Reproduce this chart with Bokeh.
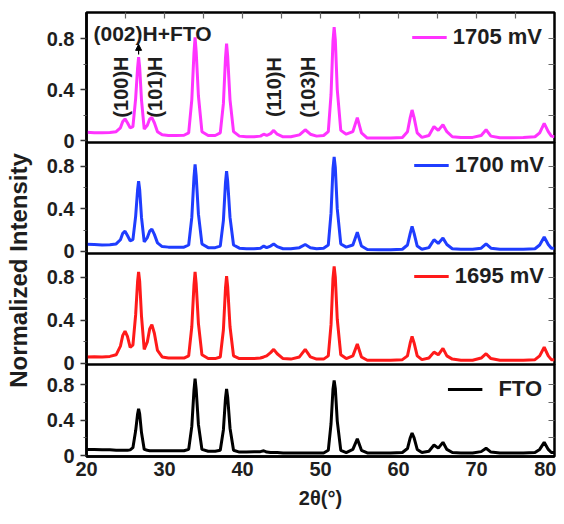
from math import pi
from bokeh.plotting import figure
from bokeh.layouts import column, row
from bokeh.models import (LinearAxis, FixedTicker, CustomJSTickFormatter, Arrow,
                          NormalHead, Range1d)
from bokeh.core.properties import value
from bokeh.embed import file_html
from bokeh.resources import INLINE

FONT = "Liberation Sans"
TXT = "#1e1e1e"

# ---------------- data ----------------
two_theta = [
    20.0, 21.0, 22.0, 23.0, 23.8, 24.35, 24.65, 24.94, 25.25, 25.6,
    25.95, 26.3, 26.55, 26.68, 26.82, 27.05, 27.4, 27.8, 28.1, 28.38,
    28.7, 29.1, 29.7, 30.5, 31.5, 32.5, 33.1, 33.5, 33.78, 33.92,
    34.06, 34.35, 34.8, 35.6, 36.5, 37.15, 37.55, 37.82, 37.96, 38.1,
    38.4, 38.85, 39.6, 40.5, 41.5, 42.3, 42.72, 43.1, 43.6, 44.0,
    44.45, 45.2, 46.2, 47.3, 48.04, 48.7, 49.5, 50.4, 51.0, 51.35,
    51.6, 51.75, 51.9, 52.15, 52.6, 53.3, 54.15, 54.72, 55.25, 56.0,
    57.5, 59.0, 60.5, 61.15, 61.5, 61.74, 62.0, 62.4, 63.0, 63.9,
    64.55, 65.1, 65.7, 66.2, 66.9, 68.0, 69.5, 70.6, 71.23, 71.85,
    73.0, 74.5, 76.0, 77.5, 78.1, 78.68, 79.2, 79.6, 80.0,
]

i_1705 = [
    0.065, 0.062, 0.062, 0.064, 0.07, 0.10, 0.15, 0.17, 0.14, 0.10,
    0.11, 0.33, 0.57, 0.655, 0.57, 0.32, 0.09, 0.12, 0.17, 0.18,
    0.14, 0.07, 0.045, 0.04, 0.04, 0.042, 0.06, 0.32, 0.69, 0.81,
    0.70, 0.35, 0.07, 0.04, 0.04, 0.06, 0.29, 0.65, 0.76, 0.66,
    0.32, 0.07, 0.035, 0.03, 0.03, 0.035, 0.05, 0.04, 0.055, 0.08,
    0.05, 0.03, 0.03, 0.045, 0.085, 0.05, 0.035, 0.04, 0.07, 0.36,
    0.78, 0.89, 0.79, 0.40, 0.08, 0.05, 0.07, 0.18, 0.06, 0.02,
    0.02, 0.02, 0.025, 0.07, 0.18, 0.24, 0.18, 0.06, 0.025, 0.04,
    0.11, 0.08, 0.125, 0.07, 0.03, 0.025, 0.025, 0.04, 0.085, 0.035,
    0.022, 0.022, 0.025, 0.03, 0.06, 0.135, 0.07, 0.035, 0.03,
]

i_1700 = [
    0.066, 0.064, 0.06, 0.062, 0.07, 0.11, 0.17, 0.19, 0.15, 0.10,
    0.11, 0.33, 0.58, 0.66, 0.58, 0.32, 0.09, 0.13, 0.19, 0.21,
    0.16, 0.08, 0.045, 0.04, 0.04, 0.04, 0.06, 0.32, 0.70, 0.82,
    0.71, 0.35, 0.07, 0.035, 0.035, 0.05, 0.29, 0.65, 0.755, 0.66,
    0.32, 0.06, 0.03, 0.025, 0.025, 0.03, 0.05, 0.035, 0.05, 0.07,
    0.045, 0.025, 0.025, 0.035, 0.065, 0.035, 0.025, 0.03, 0.06, 0.36,
    0.78, 0.89, 0.79, 0.40, 0.07, 0.04, 0.06, 0.18, 0.05, 0.018,
    0.015, 0.015, 0.02, 0.06, 0.17, 0.235, 0.17, 0.05, 0.02, 0.035,
    0.11, 0.075, 0.125, 0.065, 0.025, 0.02, 0.02, 0.03, 0.07, 0.03,
    0.02, 0.02, 0.02, 0.025, 0.06, 0.135, 0.065, 0.03, 0.03,
]

i_1695 = [
    0.06, 0.062, 0.06, 0.065, 0.08, 0.16, 0.26, 0.30, 0.25, 0.15,
    0.17, 0.45, 0.76, 0.85, 0.76, 0.44, 0.13, 0.20, 0.32, 0.36,
    0.28, 0.12, 0.06, 0.05, 0.05, 0.05, 0.07, 0.34, 0.73, 0.85,
    0.74, 0.37, 0.08, 0.045, 0.045, 0.06, 0.31, 0.70, 0.81, 0.71,
    0.34, 0.07, 0.045, 0.045, 0.045, 0.05, 0.06, 0.07, 0.10, 0.13,
    0.09, 0.045, 0.04, 0.06, 0.13, 0.06, 0.04, 0.04, 0.07, 0.36,
    0.79, 0.90, 0.80, 0.41, 0.08, 0.045, 0.07, 0.18, 0.06, 0.03,
    0.03, 0.03, 0.035, 0.07, 0.19, 0.25, 0.19, 0.07, 0.035, 0.05,
    0.105, 0.08, 0.14, 0.07, 0.04, 0.03, 0.03, 0.05, 0.09, 0.045,
    0.03, 0.03, 0.03, 0.035, 0.07, 0.15, 0.07, 0.035, 0.035,
]

i_fto = [
    0.07, 0.068, 0.066, 0.066, 0.062, 0.06, 0.06, 0.06, 0.06, 0.065,
    0.09, 0.28, 0.47, 0.53, 0.47, 0.26, 0.07, 0.06, 0.055, 0.055,
    0.055, 0.055, 0.055, 0.055, 0.055, 0.055, 0.07, 0.33, 0.74, 0.87,
    0.75, 0.35, 0.07, 0.05, 0.05, 0.06, 0.29, 0.65, 0.755, 0.66,
    0.31, 0.06, 0.04, 0.04, 0.045, 0.045, 0.055, 0.04, 0.035, 0.035,
    0.035, 0.03, 0.03, 0.03, 0.03, 0.03, 0.03, 0.03, 0.06, 0.36,
    0.75, 0.85, 0.76, 0.39, 0.06, 0.035, 0.07, 0.19, 0.06, 0.03,
    0.03, 0.03, 0.035, 0.08, 0.20, 0.255, 0.20, 0.07, 0.035, 0.05,
    0.12, 0.085, 0.15, 0.07, 0.035, 0.03, 0.03, 0.045, 0.083, 0.04,
    0.03, 0.03, 0.03, 0.035, 0.07, 0.15, 0.07, 0.035, 0.035,
]

series_labels = ["1705 mV", "1700 mV", "1695 mV", "FTO"]
series_colors = ["#ff33ff", "#1f3dff", "#ff1a1a", "#000000"]
series_values = [i_1705, i_1700, i_1695, i_fto]

y_ticks = [0, 0.4, 0.8]
y_minor = [0.2, 0.6]
x_ticks = [20, 30, 40, 50, 60, 70, 80]
top_ticks = [25, 30, 35, 40, 45, 50, 55, 60, 65, 70, 75]
right_ticks = [0.2, 0.4, 0.6, 0.8]

# peak annotations (top panel)
rot_labels = ["(100)H", "(101)H", "(110)H", "(103)H"]
rot_x = [24.45, 28.8, 44.05, 48.4]
rot_y = [0.42, 0.42, 0.42, 0.42]
main_label = "(002)H+FTO"
main_label_pos = (20.9, 0.84)
arrow_x = 26.68
arrow_y = (0.675, 0.755)

# ---------------- layout ----------------
FRAME_W = 468
frame_heights = [130, 111, 111, 92]
y_ranges = [(-0.015, 1.005), (-0.02, 1.025), (-0.01, 1.02), (-0.01, 1.03)]
legend_standoff = [6, 6, 6, 16]
legend_margin = [12, 10, 10, 12]
LEFT = 50
LABEL_W = 36
TOP = 12
BOTTOM = 60
OV = 12  # overlap so the "0" tick labels are not clipped

empty_fmt = CustomJSTickFormatter(code="return ''")


def make_panel(k):
    bottom = (k == 3)
    top = (k == 0)
    p = figure(frame_width=FRAME_W, frame_height=frame_heights[k],
               x_range=Range1d(20, 80), y_range=Range1d(*y_ranges[k]),
               output_backend="svg", toolbar_location=None,
               x_axis_location="below" if bottom else None,
               min_border_left=LEFT, min_border_right=2,
               min_border_top=TOP if top else 0,
               min_border_bottom=BOTTOM if bottom else OV,
               margin=(0, 0, 0 if bottom else -OV, 0),
               background_fill_color="white", border_fill_color="white",
               border_fill_alpha=1.0 if top else 0.0)
    p.grid.visible = False
    p.outline_line_color = "black"
    p.outline_line_width = 2.5

    p.line(two_theta, series_values[k], line_color=series_colors[k],
           line_width=3, legend_label=series_labels[k])

    # left axis
    ya = p.yaxis[0]
    ya.ticker = FixedTicker(ticks=y_ticks, minor_ticks=y_minor)
    ya.formatter = CustomJSTickFormatter(
        code="return tick == 0 ? '0' : tick.toFixed(1)")
    ya.major_tick_out = 6
    ya.major_tick_in = 0
    ya.minor_tick_out = 3
    ya.minor_tick_in = 0
    ya.major_tick_line_color = "#333333"
    ya.minor_tick_line_color = "#555555"
    ya.major_tick_line_width = 1.5
    ya.axis_line_color = "black"
    ya.axis_line_width = 2.5
    ya.major_label_standoff = 6
    ya.major_label_text_font = FONT
    ya.major_label_text_font_style = "bold"
    ya.major_label_text_font_size = "20px"
    ya.major_label_text_color = TXT

    # right axis: inward ticks only
    ra = LinearAxis(ticker=FixedTicker(ticks=right_ticks), formatter=empty_fmt,
                    major_tick_in=6, major_tick_out=0,
                    minor_tick_in=0, minor_tick_out=0,
                    axis_line_color=None, major_label_standoff=0,
                    major_label_text_font_size="1px",
                    major_tick_line_color="#666666", major_tick_line_width=1.2)
    p.add_layout(ra, "right")

    if top:
        ta = LinearAxis(ticker=FixedTicker(ticks=top_ticks), formatter=empty_fmt,
                        major_tick_in=6, major_tick_out=0,
                        minor_tick_in=0, minor_tick_out=0,
                        axis_line_color=None, major_label_standoff=0,
                        major_label_text_font_size="1px",
                        major_tick_line_color="#666666", major_tick_line_width=1.2)
        p.add_layout(ta, "above")

    if bottom:
        xa = p.xaxis[0]
        xa.ticker = FixedTicker(ticks=x_ticks)
        xa.major_tick_in = 0
        xa.major_tick_out = 0
        xa.minor_tick_in = 0
        xa.minor_tick_out = 0
        xa.axis_line_color = "black"
        xa.axis_line_width = 2.5
        xa.major_label_standoff = 5
        xa.major_label_text_font = FONT
        xa.major_label_text_font_style = "bold"
        xa.major_label_text_font_size = "20px"
        xa.major_label_text_color = TXT
        xa.axis_label = "2θ(°)"
        xa.axis_label_standoff = 8
        xa.axis_label_text_font = FONT
        xa.axis_label_text_font_style = "bold"
        xa.axis_label_text_font_size = "20px"
        xa.axis_label_text_color = TXT

    lg = p.legend[0]
    lg.location = "top_right"
    lg.margin = legend_margin[k]
    lg.padding = 0
    lg.spacing = 0
    lg.border_line_color = None
    lg.background_fill_alpha = 0
    lg.glyph_width = 35
    lg.glyph_height = 20
    lg.label_standoff = legend_standoff[k]
    lg.label_text_font = FONT
    lg.label_text_font_style = "bold"
    lg.label_text_font_size = "22px"
    lg.label_text_color = TXT

    if top:
        p.text(x=rot_x, y=rot_y, text=rot_labels, angle=pi / 2,
               text_font=value(FONT), text_font_style="bold",
               text_font_size="20px", text_align="center",
               text_baseline="middle", text_color=TXT)
        p.text(x=[main_label_pos[0]], y=[main_label_pos[1]], text=[main_label],
               text_font=value(FONT), text_font_style="bold",
               text_font_size="21px", text_align="left",
               text_baseline="middle", text_color=TXT)
        p.add_layout(Arrow(end=NormalHead(size=6, fill_color="black",
                                          line_color="black"),
                           x_start=arrow_x, y_start=arrow_y[0],
                           x_end=arrow_x, y_end=arrow_y[1],
                           line_color="black", line_width=1.2))
    return p


panels = [make_panel(k) for k in range(4)]
total_h = TOP + sum(frame_heights) + BOTTOM

lab = figure(frame_width=LABEL_W, frame_height=total_h,
             x_range=Range1d(0, 1), y_range=Range1d(0, 1),
             x_axis_location=None, y_axis_location=None,
             min_border=0, output_backend="svg", toolbar_location=None,
             outline_line_color=None)
lab.grid.visible = False
lab.text(x=[0.5], y=[1 - 270 / total_h], text=["Normalized Intensity"],
         angle=pi / 2, text_font=value(FONT), text_font_style="bold",
         text_font_size="24px", text_align="center", text_baseline="middle",
         text_color=TXT)

layout = row(lab, column(*panels, spacing=0), spacing=0)

open("out.html", "w").write(file_html(layout, INLINE))
